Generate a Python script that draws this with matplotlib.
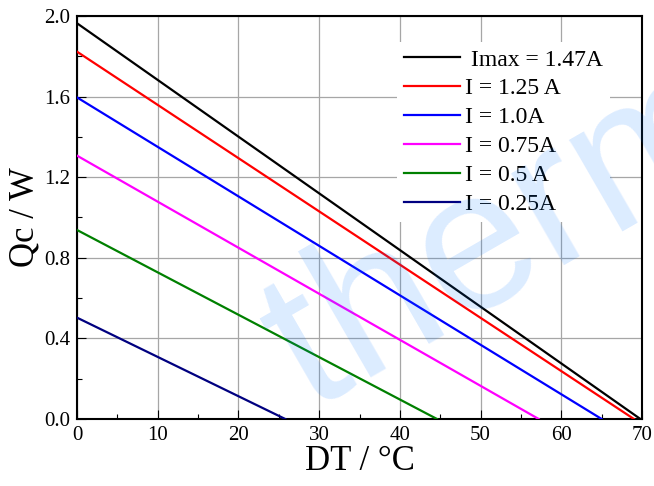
import numpy as np
import matplotlib
matplotlib.use('Agg')
import matplotlib.pyplot as plt
from matplotlib.ticker import MultipleLocator

# current levels, Qc at DT=0 and DT at Qc=0
labels = [' Imax = 1.47A', 'I = 1.25 A', 'I = 1.0A', 'I = 0.75A', 'I = 0.5 A', 'I = 0.25A']
qc_max = [1.964, 1.823, 1.596, 1.307, 0.938, 0.503]
dt_max = [69.8, 69.0, 65.0, 57.2, 44.6, 25.8]
colors = ['black', 'red', 'blue', 'magenta', 'green', 'navy']

plt.rcParams['font.family'] = ['Liberation Serif', 'DejaVu Serif']

fig = plt.figure(figsize=(6.54, 4.86), dpi=100)
ax = fig.add_axes([77 / 654, 1 - 419 / 486, 565 / 654, 403 / 486])

for q, d, c, lab in zip(qc_max, dt_max, colors, labels):
    ax.plot([0, d], [q, 0], color=c, lw=1.6, label=lab, zorder=3)

ax.set_xlim(0, 70)
ax.set_ylim(0, 2.0)
ax.xaxis.set_major_locator(MultipleLocator(10))
ax.xaxis.set_minor_locator(MultipleLocator(5))
ax.yaxis.set_major_locator(MultipleLocator(0.4))
ax.yaxis.set_minor_locator(MultipleLocator(0.2))
ax.yaxis.set_major_formatter(plt.FormatStrFormatter('%.1f'))
ax.tick_params(which='both', direction='in', top=False, right=False, labelsize=15, width=0.8)
ax.tick_params(which='major', length=6.5, pad=5)
ax.tick_params(which='minor', length=3.5)
for s in ax.spines.values():
    s.set_linewidth(1.5)

ax.set_axisbelow(True)
ax.grid(True, which='major', color='#a6a6a6', lw=0.9)

ax.set_xlabel('DT / \u00b0C', fontsize=25, labelpad=0)
ax.set_ylabel('Qc / W', fontsize=25, labelpad=2)

leg = ax.legend(loc='upper right', bbox_to_anchor=(610 / 654, 1 - 42 / 486), bbox_transform=fig.transFigure,
                fontsize=17, frameon=True, fancybox=False, edgecolor='none', facecolor='white', framealpha=1,
                handlelength=2.4, handletextpad=0.2, labelspacing=0.31, borderpad=0.3, borderaxespad=0)
leg.set_zorder(4)

# watermark
fig.text(310 / 654, 1 - 410 / 486, 'therm', fontsize=145, family='Liberation Sans', color='#0075ff', alpha=0.14,
         rotation=30, rotation_mode='anchor', ha='left', va='baseline', zorder=10)

fig.savefig('out.png', dpi=100)
